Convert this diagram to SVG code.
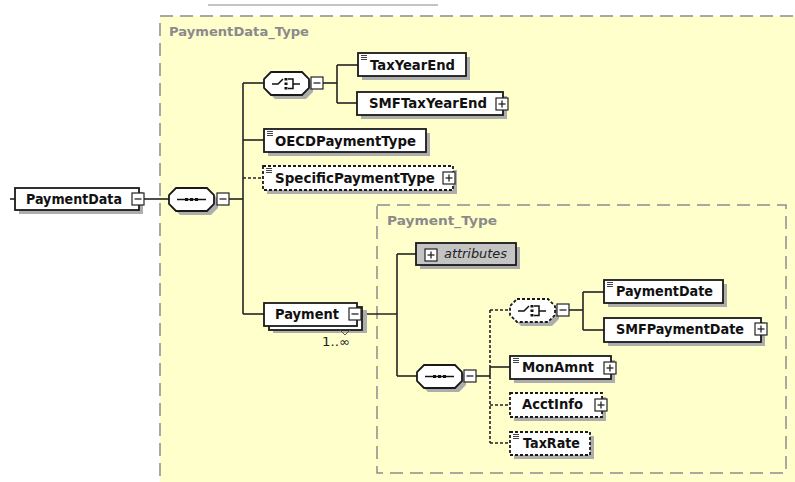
<svg xmlns="http://www.w3.org/2000/svg" width="795" height="482" viewBox="0 0 795 482">
  <style>
    .type { fill: #FFFFCC; stroke: #8c8c8c; stroke-width: 1.5; stroke-dasharray: 13 7; }
    .typelbl { font-family: "DejaVu Sans", "Liberation Sans", sans-serif; font-weight: bold; font-size: 13px; fill: #8a8a8a; }
    .box { fill: #ffffff; stroke: #1a1a1a; stroke-width: 1.8; }
    .opt { fill: #ffffff; stroke: #1a1a1a; stroke-width: 1.8; stroke-dasharray: 3 2; }
    .shadow { fill: #adadad; }
    .lbl { font-family: "DejaVu Sans", "Liberation Sans", sans-serif; font-weight: bold; font-size: 13.5px; fill: #111; }
    .wire { fill: none; stroke: #222; stroke-width: 1.6; }
    .wire-opt { fill: none; stroke: #222; stroke-width: 1.6; stroke-dasharray: 3 2; }
    .pm { fill: #ffffff; stroke: #222; stroke-width: 1.2; }
    .pmline { stroke: #222; stroke-width: 1.3; }
    .doc { stroke: #444; stroke-width: 1; }
    .icon { fill: none; stroke: #111; stroke-width: 1.5; }
    .dot { fill: #111; }
  </style>
  <defs>
    <!-- expand / collapse toggles -->
    <g id="minus">
      <rect class="pm" x="0" y="0" width="12" height="12"/>
      <line class="pmline" x1="2.5" y1="6" x2="9.5" y2="6"/>
    </g>
    <g id="plus">
      <rect class="pm" x="0" y="0" width="12" height="12"/>
      <line class="pmline" x1="2.5" y1="6" x2="9.5" y2="6"/>
      <line class="pmline" x1="6" y1="2.5" x2="6" y2="9.5"/>
    </g>
    <!-- simple-content mark -->
    <g id="doc">
      <line class="doc" x1="0" y1="0.5" x2="6" y2="0.5"/>
      <line class="doc" x1="0" y1="2.5" x2="6" y2="2.5"/>
      <line class="doc" x1="0" y1="4.5" x2="6" y2="4.5"/>
    </g>
    <!-- compositor outline, 45 x 23 -->
    <polygon id="octa" points="7,0 38,0 45,7 45,16 38,23 7,23 0,16 0,7"/>
    <!-- sequence glyph -->
    <g id="seqicon">
      <line class="icon" x1="8" y1="11.5" x2="37" y2="11.5"/>
      <rect class="dot" x="16" y="10" width="3" height="3"/>
      <rect class="dot" x="21" y="10" width="3" height="3"/>
      <rect class="dot" x="26" y="10" width="3" height="3"/>
    </g>
    <!-- choice glyph -->
    <g id="choiceicon">
      <polyline class="icon" points="8,12 14,12 19,7"/>
      <rect class="dot" x="20.5" y="6" width="3" height="2.5"/>
      <rect class="dot" x="20.5" y="10.5" width="3" height="2.5"/>
      <rect class="dot" x="20.5" y="15" width="3" height="2.5"/>
      <polyline class="icon" points="24,7 29,7 29,16.5 24,16.5"/>
      <line class="icon" x1="29" y1="12" x2="36" y2="12"/>
    </g>
  </defs>

  <rect width="795" height="482" fill="#ffffff"/>
  <line x1="208" y1="5" x2="438" y2="5" stroke="#c4c4c4" stroke-width="2"/>

  <!-- complex type frames -->
  <g id="PaymentData_Type">
    <rect class="type" x="160" y="16" width="700" height="520"/>
    <text class="typelbl" x="169" y="36" textLength="140" lengthAdjust="spacingAndGlyphs">PaymentData_Type</text>
  </g>
  <g id="Payment_Type">
    <rect class="type" x="377" y="205" width="409" height="268"/>
    <text class="typelbl" x="387" y="225" textLength="110" lengthAdjust="spacingAndGlyphs">Payment_Type</text>
  </g>

  <g id="connectors">
    <line class="wire" x1="10" y1="199" x2="15" y2="199"/>
    <line class="wire" x1="144" y1="199" x2="169" y2="199"/>
    <line class="wire" x1="229" y1="199" x2="243" y2="199"/>
    <line class="wire" x1="243" y1="83" x2="243" y2="314"/>
    <line class="wire" x1="243" y1="83" x2="264" y2="83"/>
    <line class="wire" x1="323" y1="83" x2="337" y2="83"/>
    <line class="wire" x1="337" y1="65" x2="337" y2="103"/>
    <line class="wire" x1="337" y1="65" x2="358" y2="65"/>
    <line class="wire" x1="337" y1="103" x2="357" y2="103"/>
    <line class="wire" x1="243" y1="140" x2="264" y2="140"/>
    <line class="wire-opt" x1="243" y1="178" x2="263" y2="178"/>
    <line class="wire" x1="243" y1="314" x2="264" y2="314"/>
    <line class="wire" x1="362" y1="314" x2="397" y2="314"/>
    <line class="wire" x1="397" y1="254" x2="397" y2="376"/>
    <line class="wire" x1="397" y1="254" x2="416" y2="254"/>
    <line class="wire" x1="397" y1="376" x2="417" y2="376"/>
    <line class="wire" x1="476" y1="376" x2="490" y2="376"/>
    <line class="wire-opt" x1="490" y1="310" x2="490" y2="367"/>
    <line class="wire" x1="490" y1="367" x2="490" y2="376"/>
    <line class="wire-opt" x1="490" y1="376" x2="490" y2="443"/>
    <line class="wire-opt" x1="490" y1="310" x2="510" y2="310"/>
    <line class="wire" x1="490" y1="367" x2="510" y2="367"/>
    <line class="wire-opt" x1="490" y1="405" x2="510" y2="405"/>
    <line class="wire-opt" x1="490" y1="443" x2="510" y2="443"/>
    <line class="wire" x1="569" y1="310" x2="583" y2="310"/>
    <line class="wire" x1="583" y1="292" x2="583" y2="330"/>
    <line class="wire" x1="583" y1="292" x2="604" y2="292"/>
    <line class="wire" x1="583" y1="330" x2="604" y2="330"/>
  </g>

  <g id="PaymentData">
    <rect class="shadow" x="19" y="192" width="124" height="22"/>
    <rect class="box" x="15" y="188" width="124" height="22"/>
    <text class="lbl" x="26" y="204" textLength="96" lengthAdjust="spacingAndGlyphs">PaymentData</text>
    <use href="#minus" x="132" y="193"/>
  </g>

  <g id="seq-PaymentData">
    <use href="#octa" x="173" y="192" class="shadow"/>
    <use href="#octa" x="169" y="188" class="box"/>
    <use href="#seqicon" x="169" y="188"/>
    <use href="#minus" x="217" y="193"/>
  </g>

  <g id="choice-TaxYear">
    <use href="#octa" x="268" y="76" class="shadow"/>
    <use href="#octa" x="264" y="72" class="box"/>
    <use href="#choiceicon" x="264" y="72"/>
    <use href="#minus" x="311" y="77"/>
  </g>

  <g id="TaxYearEnd">
    <rect class="shadow" x="362" y="57" width="108" height="23"/>
    <rect class="box" x="358" y="53" width="108" height="23"/>
    <use href="#doc" x="361" y="55"/>
    <text class="lbl" x="370" y="70" textLength="85" lengthAdjust="spacingAndGlyphs">TaxYearEnd</text>
  </g>

  <g id="SMFTaxYearEnd">
    <rect class="shadow" x="361" y="96" width="146" height="23"/>
    <rect class="box" x="357" y="92" width="146" height="23"/>
    <text class="lbl" x="369" y="108" textLength="118" lengthAdjust="spacingAndGlyphs">SMFTaxYearEnd</text>
    <use href="#plus" x="496" y="98"/>
  </g>

  <g id="OECDPaymentType">
    <rect class="shadow" x="268" y="133" width="162" height="23"/>
    <rect class="box" x="264" y="129" width="162" height="23"/>
    <use href="#doc" x="267" y="131"/>
    <text class="lbl" x="275" y="146" textLength="141" lengthAdjust="spacingAndGlyphs">OECDPaymentType</text>
  </g>

  <g id="SpecificPaymentType">
    <rect class="shadow" x="267" y="170" width="190" height="24"/>
    <rect class="opt" x="263" y="166" width="190" height="24"/>
    <use href="#doc" x="266" y="168"/>
    <text class="lbl" x="275" y="183" textLength="160" lengthAdjust="spacingAndGlyphs">SpecificPaymentType</text>
    <use href="#plus" x="443" y="172"/>
  </g>

  <g id="Payment">
    <rect class="shadow" x="273" y="310" width="94" height="23"/>
    <rect class="box" x="269" y="307" width="93" height="23"/>
    <rect class="box" x="264" y="303" width="93" height="23"/>
    <text class="lbl" x="275" y="319" textLength="64" lengthAdjust="spacingAndGlyphs">Payment</text>
    <use href="#minus" x="349" y="308"/>
    <polyline points="340,330 345,335 350,330" fill="none" stroke="#555" stroke-width="1"/>
    <text x="322" y="346" font-family="DejaVu Sans, Liberation Sans, sans-serif" font-size="12" fill="#222" textLength="28" lengthAdjust="spacingAndGlyphs">1..∞</text>
  </g>

  <g id="attributes">
    <rect class="shadow" x="420" y="247" width="100" height="22"/>
    <rect x="416" y="243" width="100" height="22" fill="#c4c4c4" stroke="#1a1a1a" stroke-width="1.8"/>
    <use href="#plus" x="425" y="249"/>
    <text x="444" y="258" font-family="DejaVu Sans, Liberation Sans, sans-serif" font-style="italic" font-size="11.5" fill="#222" textLength="63" lengthAdjust="spacingAndGlyphs">attributes</text>
  </g>

  <g id="seq-Payment">
    <use href="#octa" x="421" y="369" class="shadow"/>
    <use href="#octa" x="417" y="365" class="box"/>
    <use href="#seqicon" x="417" y="365"/>
    <use href="#minus" x="464" y="370"/>
  </g>

  <g id="choice-PaymentDate">
    <use href="#octa" x="514" y="303" class="shadow"/>
    <use href="#octa" x="510" y="299" class="opt"/>
    <use href="#choiceicon" x="510" y="299"/>
    <use href="#minus" x="557" y="304"/>
  </g>

  <g id="PaymentDate">
    <rect class="shadow" x="608" y="284" width="119" height="23"/>
    <rect class="box" x="604" y="280" width="119" height="23"/>
    <use href="#doc" x="607" y="282"/>
    <text class="lbl" x="616" y="296" textLength="97" lengthAdjust="spacingAndGlyphs">PaymentDate</text>
  </g>

  <g id="SMFPaymentDate">
    <rect class="shadow" x="608" y="322" width="157" height="24"/>
    <rect class="box" x="604" y="318" width="157" height="24"/>
    <text class="lbl" x="616" y="334" textLength="128" lengthAdjust="spacingAndGlyphs">SMFPaymentDate</text>
    <use href="#plus" x="755" y="323"/>
  </g>

  <g id="MonAmnt">
    <rect class="shadow" x="514" y="360" width="101" height="23"/>
    <rect class="box" x="510" y="356" width="101" height="23"/>
    <use href="#doc" x="513" y="358"/>
    <text class="lbl" x="522" y="372" textLength="72" lengthAdjust="spacingAndGlyphs">MonAmnt</text>
    <use href="#plus" x="604" y="362"/>
  </g>

  <g id="AcctInfo">
    <rect class="shadow" x="514" y="397" width="92" height="24"/>
    <rect class="opt" x="510" y="393" width="92" height="24"/>
    <text class="lbl" x="522" y="409" textLength="61" lengthAdjust="spacingAndGlyphs">AcctInfo</text>
    <use href="#plus" x="595" y="399"/>
  </g>

  <g id="TaxRate">
    <rect class="shadow" x="514" y="436" width="80" height="23"/>
    <rect class="opt" x="510" y="432" width="80" height="23"/>
    <use href="#doc" x="513" y="434"/>
    <text class="lbl" x="523" y="448" textLength="57" lengthAdjust="spacingAndGlyphs">TaxRate</text>
  </g>
</svg>
